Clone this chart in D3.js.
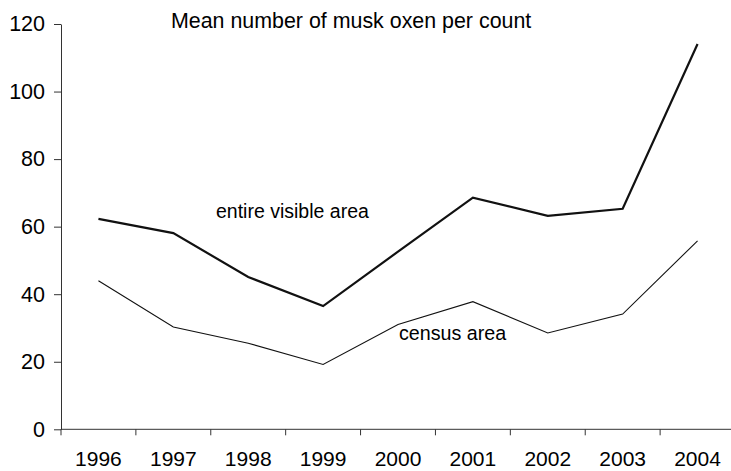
<!DOCTYPE html>
<html>
<head>
<meta charset="utf-8">
<script src="https://cdn.jsdelivr.net/npm/d3@7"></script>
<style>
  html, body { margin: 0; padding: 0; background: #fff; }
  text { font-family: "Liberation Sans", Arial, Helvetica, sans-serif; fill: #000; }
</style>
</head>
<body>
<svg id="chart" width="731" height="471"></svg>
<script>
const years = ["1996", "1997", "1998", "1999", "2000", "2001", "2002", "2003", "2004"];
const entireVisible = [62.3, 58.1, 45.1, 36.5, 52.6, 68.6, 63.2, 65.3, 114.1];
const censusArea = [44.0, 30.3, 25.5, 19.2, 31.0, 37.8, 28.5, 34.1, 55.8];
const yTicks = [0, 20, 40, 60, 80, 100, 120];
const title = "Mean number of musk oxen per count";
const seriesLabels = ["entire visible area", "census area"];

const svg = d3.select("#chart");
const mLeft = 61, mRight = 735, mTop = 24, mBottom = 429.3;

const x = d3.scaleBand().domain(years).range([mLeft, mRight]).padding(0);
const y = d3.scaleLinear().domain([0, 120]).range([mBottom, mTop]);

// Y axis
const yAxis = svg.append("g")
  .attr("transform", `translate(${mLeft},0)`)
  .call(d3.axisLeft(y).tickValues(yTicks).tickSize(7).tickPadding(9).tickSizeOuter(0));
yAxis.select(".domain").attr("stroke", "#333");
yAxis.selectAll(".tick line").attr("stroke", "#333");
yAxis.selectAll(".tick text").style("font-size", "21.5px").attr("fill", "#000");

// X axis: ticks at band boundaries
const xAxisG = svg.append("g").attr("transform", `translate(0,${mBottom})`);
xAxisG.append("line").attr("x1", mLeft).attr("x2", mRight).attr("y1", 0).attr("y2", 0).attr("stroke", "#333");
const boundaries = years.map(d => x(d));
xAxisG.selectAll("line.tk").data(boundaries).enter().append("line")
  .attr("class", "tk")
  .attr("x1", d => d).attr("x2", d => d).attr("y1", 0).attr("y2", 6).attr("stroke", "#333");
xAxisG.selectAll("text").data(years).enter().append("text")
  .attr("x", d => x(d) + x.bandwidth() / 2)
  .attr("y", 37)
  .attr("text-anchor", "middle")
  .style("font-size", "21px")
  .text(d => d);

const line = d3.line()
  .x((d, i) => x(years[i]) + x.bandwidth() / 2)
  .y(d => y(d));

svg.append("path").datum(entireVisible)
  .attr("d", line).attr("fill", "none").attr("stroke", "#111").attr("stroke-width", 2.2)
  .attr("stroke-linejoin", "miter");
svg.append("path").datum(censusArea)
  .attr("d", line).attr("fill", "none").attr("stroke", "#111").attr("stroke-width", 1.1);

// Title
svg.append("text").attr("x", 171).attr("y", 28).style("font-size", "21.4px").text(title);

// Series labels
svg.append("text").attr("x", 216).attr("y", 218).style("font-size", "19.5px").text(seriesLabels[0]);
svg.append("text").attr("x", 399).attr("y", 340).style("font-size", "19.7px").text(seriesLabels[1]);
</script>
</body>
</html>
